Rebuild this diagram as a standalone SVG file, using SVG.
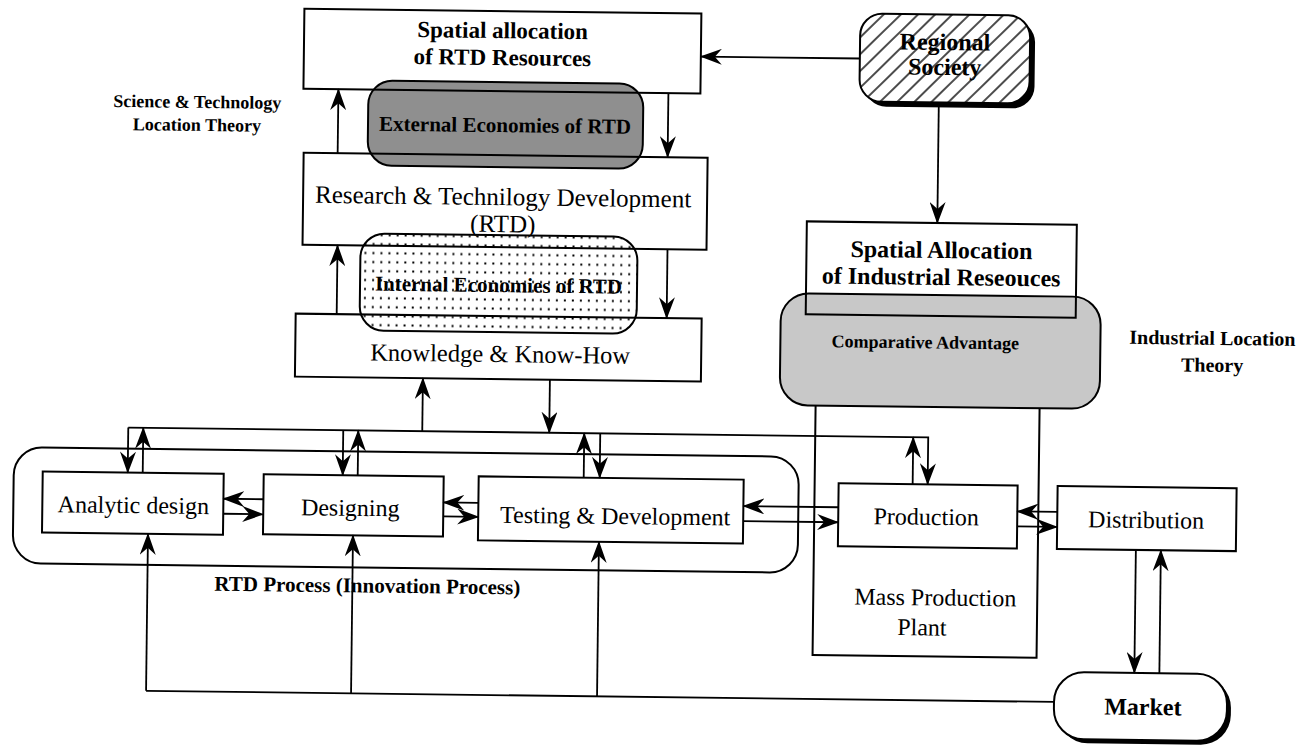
<svg xmlns="http://www.w3.org/2000/svg" width="1306" height="745" viewBox="0 0 1306 745">
<defs>
<marker id="ah" markerWidth="22" markerHeight="16" refX="21" refY="8" orient="auto" markerUnits="userSpaceOnUse"><path d="M0,0 L22,8 L0,16 L7,8 z" fill="#000"/></marker>
<pattern id="dots" width="8" height="9" patternUnits="userSpaceOnUse"><rect x="3" y="3.5" width="2" height="2" fill="#000"/></pattern>
<pattern id="hatch" width="12" height="12" patternUnits="userSpaceOnUse" patternTransform="rotate(45)"><line x1="6" y1="0" x2="6" y2="12" stroke="#000" stroke-width="1.4"/></pattern>
</defs>
<style>
.box{fill:none;stroke:#000;stroke-width:2}
.wbox{fill:#fff;stroke:#000;stroke-width:2}
.ln{fill:none;stroke:#000;stroke-width:1.8}
.arr{fill:none;stroke:#000;stroke-width:1.8;marker-end:url(#ah)}
.t{font-family:"Liberation Serif","Times New Roman",serif;font-size:24px;text-anchor:middle;fill:#000}
.b{font-weight:bold}
</style>
<rect width="1306" height="745" fill="#fff"/>
<g transform="rotate(0.7 653 372)">
<g id="rtd-process">
<rect x="15" y="455" width="785" height="116" rx="28" class="box"/>
<text x="370" y="596" class="t b" style="font-size:21px">RTD Process (Innovation Process)</text>
</g>
<g id="mass-production-plant">
<rect x="816" y="376" width="224" height="277" class="box"/>
<text x="938" y="602" class="t">Mass Production</text>
<text x="925" y="632" class="t">Plant</text>
</g>
<g id="external-economies">
<rect x="365" y="84" width="275" height="85" rx="24" fill="#8f8f8f" stroke="#000" stroke-width="2"/>
<text x="502" y="134" class="t b" style="font-size:21px">External Economies of RTD</text>
</g>
<g id="internal-economies">
<rect x="359" y="237" width="277" height="97" rx="24" fill="#fff"/>
<rect x="359" y="237" width="277" height="97" rx="24" fill="url(#dots)" stroke="#000" stroke-width="2"/>
<text x="497.5" y="294" class="t b" style="font-size:21px">Internal Economies of RTD</text>
</g>
<g id="comparative-advantage">
<rect x="780" y="291.5" width="320" height="112" rx="28" fill="#c8c8c8" stroke="#000" stroke-width="2"/>
<text x="925" y="345" class="t b" style="font-size:18px">Comparative Advantage</text>
</g>
<g id="spatial-rtd">
<rect x="300" y="13" width="397" height="80" class="box"/>
<text x="498.5" y="40" class="t b" style="font-size:23px">Spatial allocation</text>
<text x="498.5" y="67" class="t b" style="font-size:23px">of RTD Resources</text>
</g>
<g id="rtd">
<rect x="301" y="157" width="404" height="92" class="box"/>
<text x="501" y="207" class="t" style="font-size:25px">Research &amp; Technilogy Development</text>
<text x="501" y="234" class="t" style="font-size:25px">(RTD)</text>
</g>
<g id="knowledge">
<rect x="295" y="318" width="406" height="63" class="box"/>
<text x="500" y="364" class="t" style="font-size:24.5px">Knowledge &amp; Know-How</text>
</g>
<g id="regional-society">
<rect x="861" y="16" width="170" height="88" rx="22" fill="#000"/>
<rect x="856" y="11" width="170" height="88" rx="22" fill="#fff"/>
<rect x="856" y="11" width="170" height="88" rx="22" fill="url(#hatch)" stroke="#000" stroke-width="2"/>
<text x="941" y="46.5" class="t b">Regional</text>
<text x="941" y="71.5" class="t b">Society</text>
</g>
<g id="spatial-industrial">
<rect x="805" y="219.5" width="270" height="93" class="box"/>
<text x="940" y="254.5" class="t b">Spatial Allocation</text>
<text x="940" y="281.5" class="t b">of Industrial Reseouces</text>
</g>
<g id="analytic-design">
<rect x="44" y="479" width="181" height="61" class="wbox"/>
<text x="135" y="519.5" class="t">Analytic design</text>
</g>
<g id="designing">
<rect x="265" y="479" width="180" height="60" class="wbox"/>
<text x="352" y="519.5" class="t">Designing</text>
</g>
<g id="testing">
<rect x="480" y="478.5" width="265" height="64" class="wbox"/>
<text x="617" y="524.5" class="t">Testing &amp; Development</text>
</g>
<g id="production">
<rect x="840" y="481" width="179" height="63" class="wbox"/>
<text x="928" y="521.5" class="t">Production</text>
</g>
<g id="distribution">
<rect x="1059" y="481" width="179" height="63" class="wbox"/>
<text x="1148" y="522" class="t">Distribution</text>
</g>
<g id="market">
<rect x="1062" y="671" width="173" height="67" rx="30" fill="#000"/>
<rect x="1058" y="667" width="173" height="67" rx="30" class="wbox"/>
<text x="1147" y="709" class="t b">Market</text>
</g>
<g id="labels">
<text x="194" y="113.5" class="t b" style="font-size:18px">Science &amp; Technology</text>
<text x="194" y="136.5" class="t b" style="font-size:18px">Location Theory</text>
<text x="1212" y="338" class="t b" style="font-size:20px">Industrial Location</text>
<text x="1212" y="365" class="t b" style="font-size:20px">Theory</text>
</g>
<g id="connectors">
<path d="M856,56 H697" class="arr"/>
<path d="M935.5,99 V219.5" class="arr"/>
<path d="M335,157 V93" class="arr"/>
<path d="M665,93 V157" class="arr"/>
<path d="M336,318 V249" class="arr"/>
<path d="M666,249 V318" class="arr"/>
<path d="M423,434 V381" class="arr"/>
<path d="M550,381 V434" class="arr"/>
<path d="M129,434 H929 V481" class="arr"/>
<path d="M129,434 V479" class="arr"/>
<path d="M144,479 V434" class="arr"/>
<path d="M344,434 V479" class="arr"/>
<path d="M359,479 V434" class="arr"/>
<path d="M585,478.5 V434" class="arr"/>
<path d="M601,434 V478.5" class="arr"/>
<path d="M914,481 V434" class="arr"/>
<path d="M265,504 H225" class="arr"/>
<path d="M225,519 H265" class="arr"/>
<path d="M480,505 H445" class="arr"/>
<path d="M445,519 H480" class="arr"/>
<path d="M840,505 H745" class="arr"/>
<path d="M745,520 H840" class="arr"/>
<path d="M1059,507 H1019" class="arr"/>
<path d="M1019,522 H1059" class="arr"/>
<path d="M1138,544 V667" class="arr"/>
<path d="M1163,667 V544" class="arr"/>
<path d="M1058,697 H150" class="ln"/>
<path d="M150,697 V540" class="arr"/>
<path d="M355,697 V539" class="arr"/>
<path d="M601,697 V542.5" class="arr"/>
</g>
</g>
</svg>
